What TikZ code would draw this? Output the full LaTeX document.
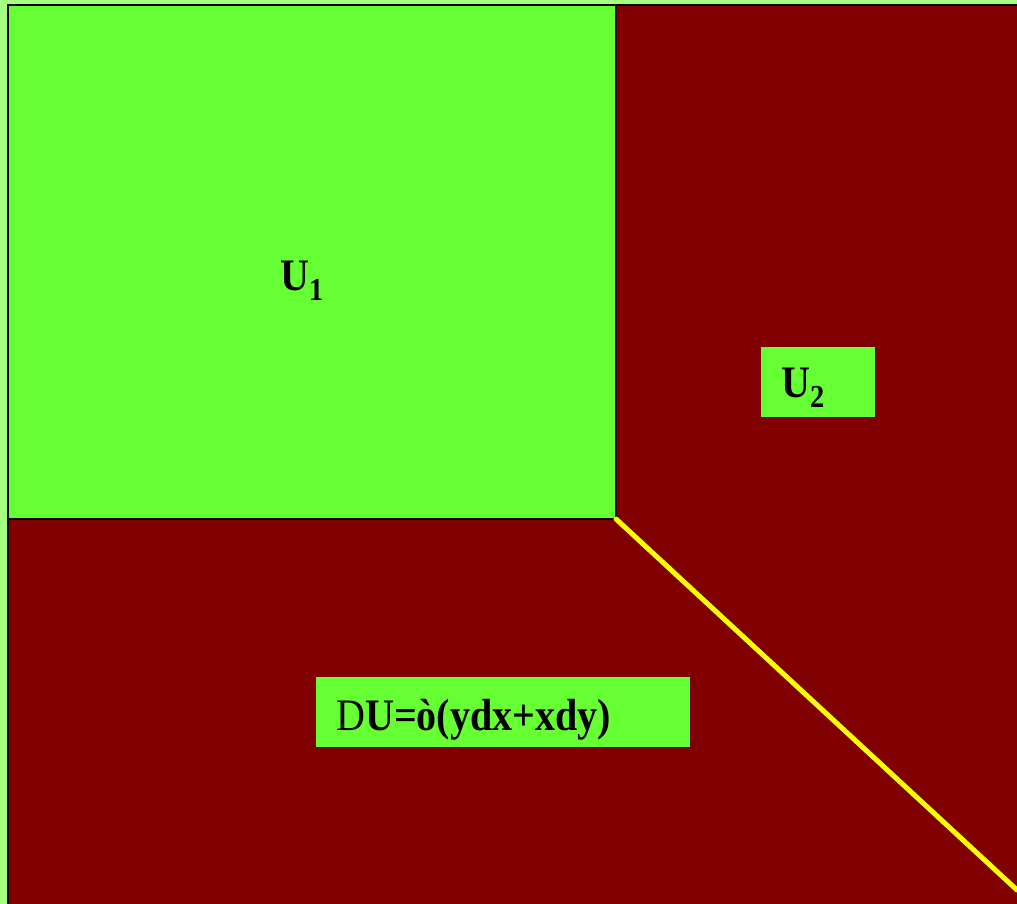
\documentclass[tikz,border=0pt]{standalone}
\usepackage{fontspec}
\setmainfont{Liberation Serif}
\newfontfamily\condfont{Liberation Serif}[FakeStretch=0.89]
\definecolor{brightgreen}{HTML}{66FF33}
\definecolor{palegreen}{HTML}{A6FF80}
\definecolor{maroon}{HTML}{800000}
\definecolor{lineyellow}{HTML}{FFFF00}
\newcommand{\lowsub}[1]{\raisebox{-10pt}{\fontsize{32}{32}\selectfont #1}}
\tikzset{
  region/.style={draw=black, line width=2.5pt},
  labelbox/.style={fill=brightgreen, inner sep=0pt},
  plain/.style={inner sep=0pt, font=\condfont\bfseries\fontsize{45}{45}\selectfont}
}
\begin{document}
\begin{tikzpicture}[x=1pt,y=-1pt]
\fill[palegreen] (0,0) rectangle (1017,904);
\useasboundingbox (0,0) rectangle (1017,904);
\fill[maroon, region] (8,5) rectangle (1030,920);
\fill[brightgreen, region] (8,5) rectangle (616,519);
\coordinate (corner) at (616,519);
\coordinate (lineend) at (1017,890);
\draw[lineyellow, line width=5pt, line cap=round] (corner) -- (lineend);
\node[plain, anchor=base west] (u1) at (280,290) {U\lowsub{1}};
\node[labelbox, minimum width=114pt, minimum height=70pt] (u2box) at (818,382) {};
\node[plain, anchor=base west] (u2) at (781,397) {U\lowsub{2}};
\node[labelbox, minimum width=374pt, minimum height=70pt] (dubox) at (503,712) {};
\node[plain, anchor=base west] (du) at (336,730) {\mdseries D\bfseries U=ò(ydx+xdy)};
\end{tikzpicture}
\end{document}
